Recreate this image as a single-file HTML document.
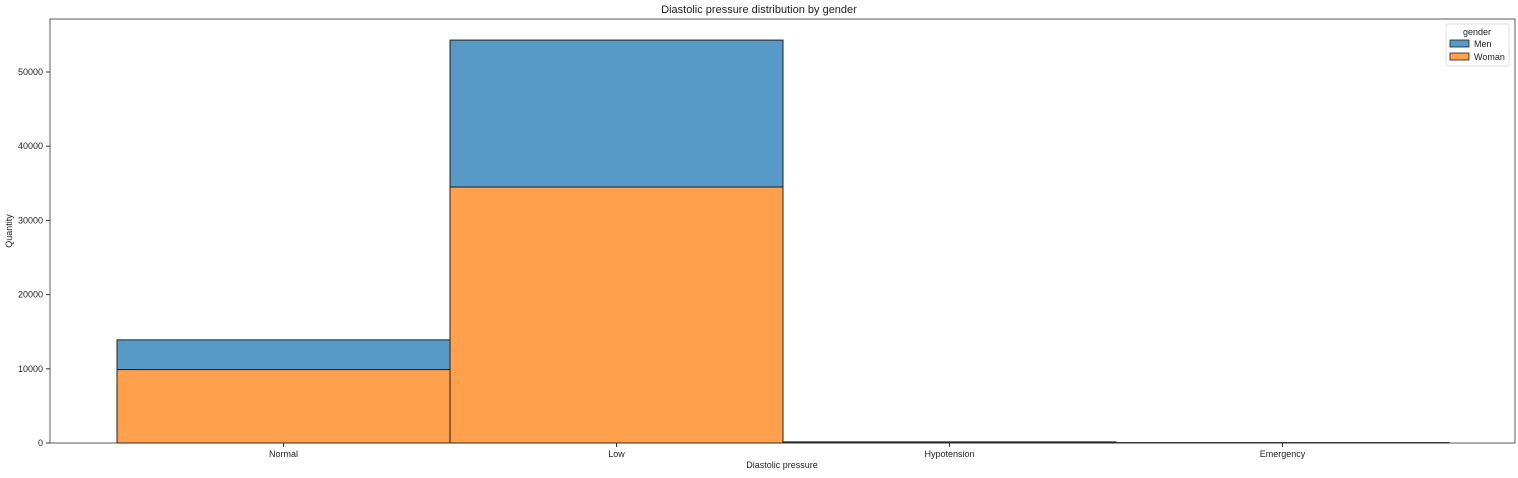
<!DOCTYPE html>
<html><head><meta charset="utf-8"><style>
body{margin:0;background:#fff;font-family:"Liberation Sans",sans-serif;}
svg text{font-family:"Liberation Sans",sans-serif;fill:#222;}
</style></head><body>
<svg width="1518" height="473">
<text x="759" y="13" font-size="11" text-anchor="middle">Diastolic pressure distribution by gender</text>
<g id="bars"></g>
<rect x="50" y="19" width="1465" height="424" fill="none" stroke="#333" stroke-width="0.8"/>
<g id="axes"></g>
<text x="782" y="468" font-size="9" text-anchor="middle">Diastolic pressure</text>
<text transform="translate(12,231) rotate(-90)" font-size="9" text-anchor="middle">Quantity</text>
<g>
<rect x="1446" y="24" width="63" height="42" fill="#fff" stroke="#ddd" rx="2"/>
<text x="1477" y="35" font-size="9" text-anchor="middle">gender</text>
<rect x="1450" y="40" width="19" height="7" fill="#5799c7" stroke="#222" stroke-width="0.8"/>
<text x="1474" y="47" font-size="9">Men</text>
<rect x="1450" y="53" width="19" height="7" fill="#ffa04c" stroke="#222" stroke-width="0.8"/>
<text x="1474" y="60" font-size="9">Woman</text>
</g>
</svg>
<script>
const categories=["Normal","Low","Hypotension","Emergency"];
const woman=[9900,34500,100,30];
const men=[4000,19800,50,20];
const yTicks=[0,10000,20000,30000,40000,50000];
const x0=117,bw=333,yBase=443,pxPer=74.2/10000;
const ys=v=>yBase-v*pxPer;
const NS="http://www.w3.org/2000/svg";
const bars=document.getElementById('bars'),axes=document.getElementById('axes');
function mk(t,a,p){const e=document.createElementNS(NS,t);for(const k in a)e.setAttribute(k,a[k]);p.appendChild(e);return e;}
categories.forEach((c,i)=>{
 const x=x0+i*bw;
 const w=mk('rect',{x:x,y:ys(woman[i]),width:bw,height:woman[i]*pxPer,fill:'#ffa04c',stroke:'#222','stroke-width':1},bars);
 
 
 const m=mk('rect',{x:x,y:ys(woman[i]+men[i]),width:bw,height:men[i]*pxPer,fill:'#5799c7',stroke:'#222','stroke-width':1},bars);
 
 
 const cx=x+bw/2;
 mk('line',{x1:cx,x2:cx,y1:443,y2:447,stroke:'#333'},axes);
 const t=mk('text',{x:cx,y:457,'font-size':9,'text-anchor':'middle'},axes);t.textContent=c;
 
 
});
yTicks.forEach(v=>{
 const y=ys(v);
 mk('line',{x1:46,x2:50,y1:y,y2:y,stroke:'#333'},axes);
 const t=mk('text',{x:43,y:y+3,'font-size':9,'text-anchor':'end'},axes);t.textContent=v;
 
 
});
</script>
</body></html>
